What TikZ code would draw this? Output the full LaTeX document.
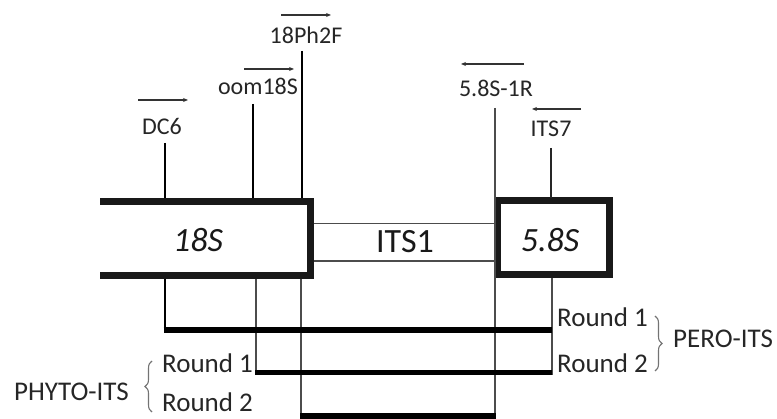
\documentclass[tikz,border=0pt]{standalone}
\usepackage{fontspec}
\setmainfont{Carlito}
\usetikzlibrary{arrows.meta,decorations.pathreplacing}
\begin{document}
\begin{tikzpicture}[x=1pt,y=-1pt,
  lbl/.style={text=black!85, inner sep=0pt, anchor=base, font=\fontsize{24}{24}\selectfont},
  rnd/.style={text=black!85, inner sep=0pt, anchor=base west, font=\fontsize{27}{27}\selectfont},
  boxlbl/.style={text=black!90, inner sep=0pt, anchor=base, font=\fontsize{34}{34}\selectfont},
  boxline/.style={line width=7pt, line join=miter, black!90},
  primer/.style={line width=2.8pt, black},
  thinl/.style={line width=1.6pt, black!70},
  prod/.style={line width=5.5pt, black},
  dirarrow/.style={line width=1.4pt, black!80, -{Stealth[length=5pt,width=4pt]}},
  brc/.style={line width=1.1pt, black!55, decorate, decoration={brace, amplitude=7pt}}]
\useasboundingbox (0,0) rectangle (777,419);

% key coordinates
\coordinate (s18l) at (100,202);
\coordinate (s18tr) at (310.5,202);
\coordinate (s18br) at (310.5,276);
\coordinate (s18bl) at (100,276);
\coordinate (its1a) at (314,223.5);
\coordinate (its1b) at (493.5,223.5);
\coordinate (its1c) at (314,261);
\coordinate (its1d) at (493.5,261);

% 18S open box
\draw[boxline] (s18l) -- (s18tr) -- (s18br) -- (s18bl);
% ITS1 lines
\draw[thinl] (its1a) -- (its1b);
\draw[thinl] (its1c) -- (its1d);
% 5.8S box
\draw[boxline] (497,201) rectangle (609.5,275);

% box labels
\node[boxlbl] (l18S) at (198,252) {\itshape 18S};
\node[boxlbl] (lITS1) at (405,253) {ITS1};
\node[boxlbl] (l58S) at (550,252) {\itshape 5.8S};

% primer sites
\coordinate (dc6t) at (165,143);   \coordinate (dc6b) at (165,198.5);
\coordinate (oomt) at (253,104);   \coordinate (oomb) at (253,198.5);
\coordinate (phft) at (302,51);    \coordinate (phfb) at (302,198.5);
\coordinate (r1t) at (495,108);    \coordinate (r1b) at (495,416);
\coordinate (its7t) at (551,148);  \coordinate (its7b) at (551,198);

\draw[primer] (dc6t) -- (dc6b);
\draw[primer] (oomt) -- (oomb);
\draw[primer] (phft) -- (phfb);
\draw[thinl] (r1t) -- (r1b);
\draw[line width=2pt, black!85] (its7t) -- (its7b);

% primer labels
\node[lbl] (nDC6) at (162,135) {DC6};
\node[lbl] (noom) at (258,95) {oom18S};
\node[lbl] (nphf) at (306,44) {18Ph2F};
\node[lbl] (n58r) at (496,97) {5.8S-1R};
\node[lbl] (nits7) at (551,137) {ITS7};

% direction arrows
\draw[dirarrow] (138,100) -- (188,100);
\draw[dirarrow] (244,69) -- (294,69);
\draw[dirarrow] (281,15) -- (331,15);
\draw[dirarrow] (524,64) -- (461,64);
\draw[dirarrow] (581,109) -- (532,109);

% products
\coordinate (p1a) at (165,279);  \coordinate (p1b) at (165,330);  \coordinate (p1c) at (552,330);
\coordinate (p2a) at (256,279);  \coordinate (p2b) at (256,372.5); \coordinate (p2c) at (552,372.5);
\coordinate (p3a) at (301,279);  \coordinate (p3b) at (301,416);  \coordinate (p3c) at (495,416);
\coordinate (i7a) at (552,278);  \coordinate (i7b) at (552,375);

\draw[primer] (p1a) -- (p1b);
\draw[thinl] (p2a) -- (p2b);
\draw[thinl] (p3a) -- (p3b);
\draw[thinl] (i7a) -- (i7b);
\draw[prod] ([xshift=-1.4pt]p1b) -- (p1c);
\draw[prod] ([xshift=-0.8pt]p2b) -- (p2c);
\draw[prod] ([xshift=-0.8pt]p3b) -- ([xshift=0.8pt]p3c);

% round labels
\node[rnd] (rr1) at (557,327) {Round 1};
\node[rnd] (rr2) at (557,373) {Round 2};
\node[rnd] (pero) at (673,348) {PERO-ITS};
\node[rnd] (lr1) at (162,373) {Round 1};
\node[rnd] (lr2) at (162,412) {Round 2};
\node[rnd] (phy) at (14,401) {PHYTO-ITS};

% braces
\coordinate (b1t) at (655,316); \coordinate (b1b) at (655,371);
\coordinate (b2t) at (152,361); \coordinate (b2b) at (152,412);
\draw[brc] (b1t) -- (b1b);
\draw[brc] (b2b) -- (b2t);
\end{tikzpicture}
\end{document}
